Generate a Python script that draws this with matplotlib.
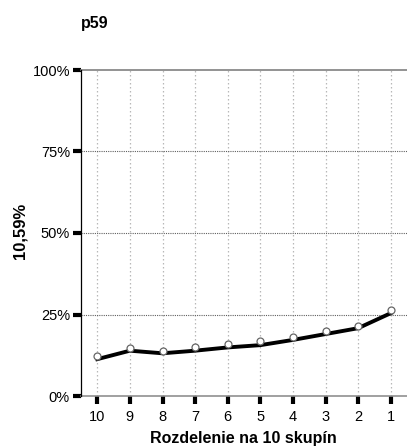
import matplotlib
matplotlib.use("Agg")
import matplotlib.pyplot as plt
from matplotlib.ticker import FuncFormatter

plt.rcParams['font.family'] = ['Liberation Sans', 'DejaVu Sans']

groups = ['10', '9', '8', '7', '6', '5', '4', '3', '2', '1']
line_vals = [11.3, 13.9, 13.1, 13.9, 14.9, 15.6, 17.2, 19.0, 20.8, 25.4]
point_vals = [12.3, 14.7, 13.8, 15.0, 15.9, 17.0, 18.0, 19.9, 21.6, 26.4]
y_ticks = [0, 25, 50, 75, 100]

W, H = 407, 446
fig = plt.figure(figsize=(W / 100, H / 100), dpi=100)
ax = fig.add_axes([81 / W, 1 - 396 / H, 1 - 81 / W, (396 - 70) / H])

x = list(range(len(groups)))
ax.set_xlim(-0.5, len(groups) - 0.5)
ax.set_ylim(0, 100)

# grid
for xi in x:
    ax.axvline(xi, color='#b8b8b8', lw=0.9, ls=(0, (1.2, 2)), zorder=1)
for yv in [25, 50, 75]:
    ax.axhline(yv, color='#606060', lw=0.8, ls=(0, (1, 1)), zorder=1)
ax.axhline(100, color='#808080', lw=1.2, zorder=2, clip_on=False)
ax.axhline(0, color='#909090', lw=1.2, zorder=2, clip_on=False)

ax.plot(x, line_vals, color='black', lw=2.8, zorder=3, solid_joinstyle='miter')
ax.plot(x, point_vals, ls='none', marker='o', ms=5, mfc='white',
        mec='#666666', mew=0.9, zorder=4)

for s in ['top', 'right', 'bottom']:
    ax.spines[s].set_visible(False)
ax.spines['left'].set_color('black')
ax.spines['left'].set_linewidth(0.9)

ax.set_xticks(x)
ax.set_xticklabels(groups)
ax.set_yticks(y_ticks)
ax.yaxis.set_major_formatter(FuncFormatter(lambda v, p: f"{int(v)}%"))
ax.tick_params(axis='both', length=6, width=3, color='black', labelsize=10.5)
ax.tick_params(axis='x', pad=4)
ax.tick_params(axis='y', pad=2)

ax.set_xlabel('Rozdelenie na 10 skupín', fontsize=11.5, fontweight='bold', va='baseline')
ax.xaxis.set_label_coords(243 / W, 1 - 443 / H, transform=fig.transFigure)
ax.set_ylabel('10,59%', fontsize=12, fontweight='bold', va='center')
ax.yaxis.set_label_coords(20 / W, 1 - 231 / H, transform=fig.transFigure)
fig.text(81 / W, 1 - 28 / H, 'p59', fontsize=11.5, fontweight='bold',
         va='baseline', ha='left')

fig.savefig('out.png', dpi=100)
